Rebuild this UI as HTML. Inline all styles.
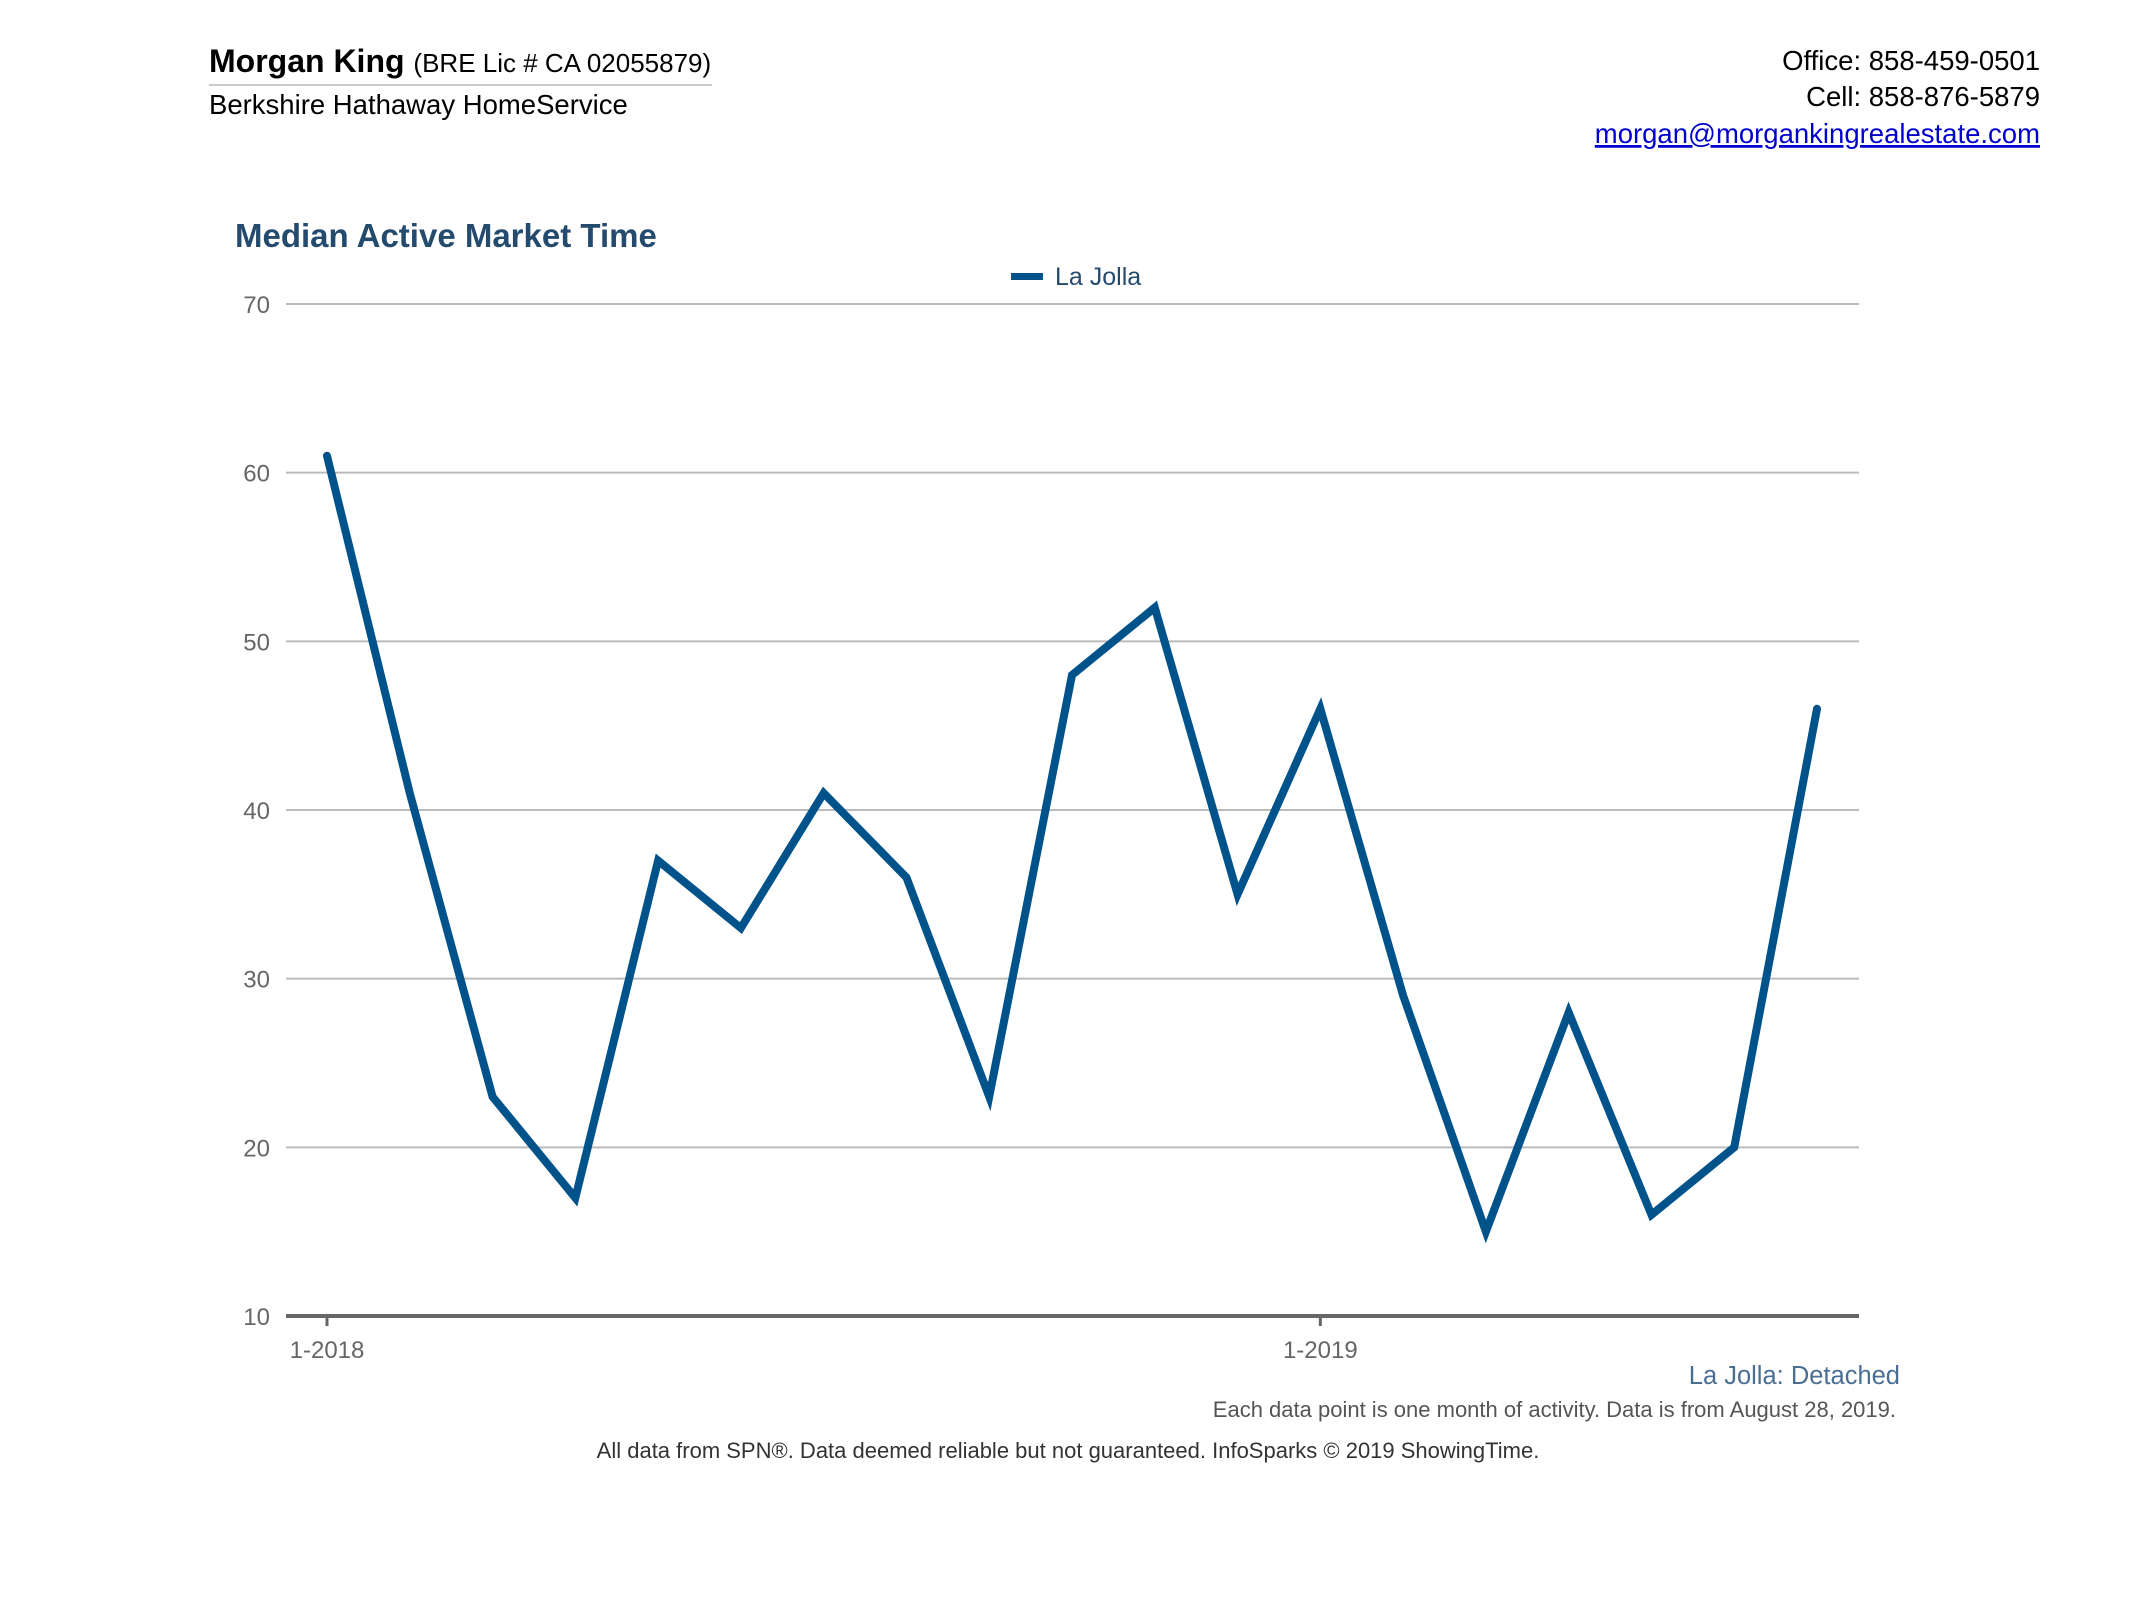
<!DOCTYPE html>
<html><head><meta charset="utf-8"><style>
html,body{margin:0;padding:0;background:#fff;width:2133px;height:1600px;overflow:hidden;font-family:"Liberation Sans",Arial,sans-serif;}
svg text{font-family:"Liberation Sans",Arial,sans-serif;}
</style></head><body>
<svg width="2133" height="1600">
<g>
<text x="209" y="72" font-size="32" font-weight="bold" fill="#000">Morgan King <tspan font-size="26" font-weight="normal">(BRE Lic # CA 02055879)</tspan></text>
<line x1="209" y1="85" x2="712" y2="85" stroke="#ccc" stroke-width="2"/>
<text x="209" y="114" font-size="27.5" fill="#000">Berkshire Hathaway HomeService</text>
</g>
<g text-anchor="end" font-size="27.5">
<text x="2040" y="70" fill="#000">Office: 858-459-0501</text>
<text x="2040" y="106" fill="#000">Cell: 858-876-5879</text>
<text x="2040" y="143" fill="#0000cc" text-decoration="underline">morgan@morgankingrealestate.com</text>
</g>
<text x="235" y="247" font-size="33" font-weight="bold" fill="#244a6e">Median Active Market Time</text>
<g>
<rect x="1011" y="273" width="32" height="7" fill="#00538a"/>
<text x="1055" y="285" font-size="25" fill="#244a6e">La Jolla</text>
</g>
<g id="grid"></g>
<g id="yaxis"></g>
<g id="xaxis"></g>
<g id="series"></g>
<text x="1900" y="1384" text-anchor="end" font-size="25.5" fill="#4a6e92">La Jolla: Detached</text>
<text x="1896" y="1417" text-anchor="end" font-size="22" fill="#555">Each data point is one month of activity. Data is from August 28, 2019.</text>
<text x="1068" y="1458" text-anchor="middle" font-size="22" fill="#333">All data from SPN®. Data deemed reliable but not guaranteed. InfoSparks © 2019 ShowingTime.</text>
</svg>
<script>
const values = [61,41,23,17,37,33,41,36,23,48,52,35,46,29,15,28,16,20,46];
const yTicks = [10,20,30,40,50,60,70];
const xLabels = ["1-2018","1-2019"];
const xLabelIdx = [0,12];
const NS="http://www.w3.org/2000/svg";
const x0=327,x1=1817,left=286,right=1859,yTop=304,yBot=1316;
function xs(i){return x0+(x1-x0)*i/(values.length-1);}
function ys(v){return yBot-(v-10)/(70-10)*(yBot-yTop);}
function mk(t,a,p){const e=document.createElementNS(NS,t);for(const k in a)e.setAttribute(k,a[k]);p.appendChild(e);return e;}
const grid=document.getElementById('grid'),ya=document.getElementById('yaxis'),xa=document.getElementById('xaxis'),se=document.getElementById('series');
yTicks.forEach(v=>{
 if(v>10){const l=mk('line',{x1:left,x2:right,y1:ys(v),y2:ys(v),stroke:'#bbb','stroke-width':2},grid);
 
 }
 const t=mk('text',{x:270,y:ys(v)+9,'text-anchor':'end','font-size':24,fill:'#666'},ya);t.textContent=v;
 
 
});
const base=mk('line',{x1:left,x2:right,y1:yBot,y2:yBot,stroke:'#666','stroke-width':4},xa);


xLabels.forEach((s,k)=>{
 const x=xs(xLabelIdx[k]);
 const tk=mk('line',{x1:x,x2:x,y1:yBot,y2:yBot+10,stroke:'#666','stroke-width':3},xa);
 
 
 const t=mk('text',{x:x,y:1358,'text-anchor':'middle','font-size':24,fill:'#666'},xa);t.textContent=s;
 
 
});
const p=mk('polyline',{points:values.map((v,i)=>xs(i)+','+ys(v)).join(' '),fill:'none',stroke:'#00538a','stroke-width':8,'stroke-linejoin':'miter','stroke-linecap':'round'},se);


</script>
</body></html>
